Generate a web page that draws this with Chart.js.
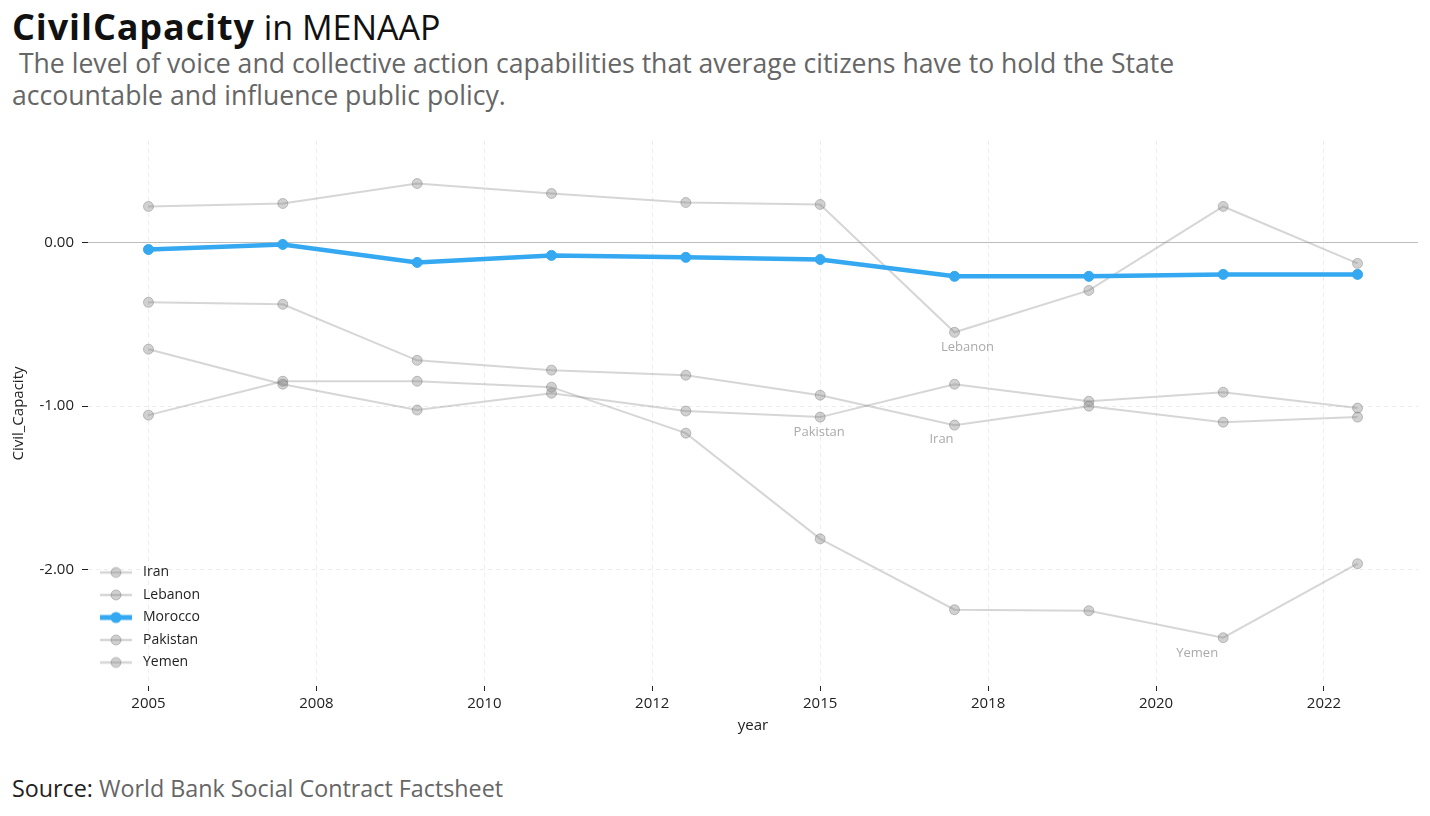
<!DOCTYPE html>
<html>
<head>
<meta charset="utf-8">
<script src="https://cdn.jsdelivr.net/npm/chart.js@4"></script>
<style>
  body { margin: 0; width: 1430px; height: 816px; background: #fff; font-family: "Open Sans", sans-serif; position: relative; overflow: hidden; }
  #title { position: absolute; left: 12px; top: 7px; font-size: 34px; line-height: 40px; color: #111; white-space: nowrap; }
  #title b { font-weight: 700; font-size: 36px; letter-spacing: 0.9px; }
  #subtitle { position: absolute; left: 12px; top: 47px; font-size: 26.6px; line-height: 32px; color: #666; white-space: pre; }
  #source { position: absolute; left: 12px; top: 773px; font-size: 23.3px; line-height: 30px; color: #666; white-space: nowrap; }
  #source span { color: #222; }
  #wrap { position: absolute; left: 0; top: 124px; width: 1430px; height: 612px; }
</style>
</head>
<body>
<div id="title"><b>CivilCapacity</b> in MENAAP</div>
<div id="subtitle"> The level of voice and collective action capabilities that average citizens have to hold the State
accountable and influence public policy.</div>
<div id="wrap"><canvas id="chart"></canvas></div>
<div id="source"><span>Source:</span> World Bank Social Contract Factsheet</div>
<script>
// data
var years = [2005, 2007, 2009, 2011, 2013, 2015, 2017, 2019, 2021, 2023];
var countries = ["Iran", "Lebanon", "Morocco", "Pakistan", "Yemen"];
var iran = [-0.366, -0.378, -0.72, -0.78, -0.811, -0.933, -1.116, -1.0, -1.098, -1.067];
var lebanon = [0.22, 0.238, 0.36, 0.299, 0.244, 0.232, -0.549, -0.293, 0.22, -0.128];
var morocco = [-0.043, -0.012, -0.122, -0.079, -0.091, -0.104, -0.207, -0.207, -0.195, -0.195];
var pakistan = [-0.652, -0.866, -1.024, -0.921, -1.03, -1.067, -0.866, -0.97, -0.915, -1.012];
var yemen = [-1.055, -0.848, -0.848, -0.884, -1.165, -1.811, -2.244, -2.25, -2.415, -1.963];
var xTickValues = [2005, 2007.5, 2010, 2012.5, 2015, 2017.5, 2020, 2022.5];
var xTickLabels = ["2005", "2008", "2010", "2012", "2015", "2018", "2020", "2022"];
var yTickValues = [0, -1, -2];

var seriesValues = [iran, lebanon, morocco, pakistan, yemen];
var highlight = "Morocco";

var BLUE = "rgb(52,168,240)";
var GREY_LINE = "rgba(128,128,128,0.32)";
var GREY_PT = "rgba(128,128,128,0.36)";
var GREY_PT_BORDER = "rgba(110,110,110,0.38)";

// where each country's name sits relative to its lowest point
var labelNudge = {
  Iran: [-13, 14],
  Lebanon: [13, 15],
  Pakistan: [-1, 15],
  Yemen: [-26, 16]
};

function legendIcon(isHi) {
  var c = document.createElement("canvas");
  c.width = 38; c.height = 14;
  var g = c.getContext("2d");
  g.strokeStyle = isHi ? BLUE : GREY_LINE;
  g.lineWidth = isHi ? 5 : 2.5;
  g.beginPath(); g.moveTo(2, 7); g.lineTo(34, 7); g.stroke();
  g.beginPath(); g.arc(18, 7, isHi ? 5.5 : 5, 0, Math.PI * 2);
  g.fillStyle = isHi ? BLUE : GREY_PT; g.fill();
  if (!isHi) { g.strokeStyle = GREY_PT_BORDER; g.lineWidth = 1; g.stroke(); }
  return c;
}

var datasets = countries.map(function (name, i) {
  var hi = name === highlight;
  return {
    label: name,
    data: years.map(function (y, j) { return { x: y, y: seriesValues[i][j] }; }),
    borderColor: hi ? BLUE : GREY_LINE,
    backgroundColor: hi ? BLUE : GREY_PT,
    pointBackgroundColor: hi ? BLUE : GREY_PT,
    pointBorderColor: hi ? BLUE : GREY_PT_BORDER,
    pointBorderWidth: 1,
    pointRadius: 5,
    borderWidth: hi ? 4.5 : 2,
    order: hi ? 0 : 1,
    tension: 0
  };
});
var icons = countries.map(function (n) { return legendIcon(n === highlight); });

var minLabels = {
  id: "minLabels",
  afterLayout: function (chart) {
    // drop the legend into the lower left corner, as in the reference
    chart.legend.bottom += 9;
    chart.legend.left += 1.5;
  },
  afterDatasetsDraw: function (chart) {
    var ctx = chart.ctx;
    ctx.save();
    ctx.font = "13px 'Open Sans'";
    ctx.fillStyle = "#aaa";
    ctx.textAlign = "center";
    ctx.textBaseline = "middle";
    countries.forEach(function (name, i) {
      if (name === highlight) return;
      var vals = seriesValues[i];
      var k = vals.indexOf(Math.min.apply(null, vals));
      var pt = chart.getDatasetMeta(i).data[k];
      var n = labelNudge[name] || [0, 15];
      ctx.fillText(name, pt.x + n[0], pt.y + n[1]);
    });
    ctx.restore();
  }
};

Chart.defaults.font.family = "'Open Sans', sans-serif";
Chart.defaults.color = "#222";

new Chart(document.getElementById("chart"), {
  type: "line",
  data: { datasets: datasets },
  plugins: [minLabels],
  options: {
    responsive: true,
    maintainAspectRatio: false,
    animation: false,
    layout: { padding: { top: 10, left: 6, right: 12, bottom: 0 } },
    plugins: {
      tooltip: { enabled: false },
      legend: {
        position: "chartArea",
        align: "end",
        labels: {
          usePointStyle: true,
          pointStyleWidth: 38,
          padding: 8.5,
          font: { size: 14 },
          color: "#222",
          generateLabels: function (chart) {
            return Chart.defaults.plugins.legend.labels.generateLabels(chart).map(function (l) {
              l.pointStyle = icons[l.datasetIndex];
              return l;
            });
          },
          sort: function (a, b) { return a.datasetIndex - b.datasetIndex; }
        }
      }
    },
    scales: {
      x: {
        type: "linear",
        min: 2004.1,
        max: 2023.9,
        afterBuildTicks: function (s) { s.ticks = xTickValues.map(function (v) { return { value: v }; }); },
        afterFit: function (s) { s.height = 50; },
        ticks: {
          font: { size: 15 },
          color: "#222",
          padding: 4,
          maxRotation: 0,
          callback: function (v) { return xTickLabels[xTickValues.indexOf(v)]; }
        },
        grid: { color: "#ececec", tickColor: "#222", tickLength: 5, tickWidth: 1 },
        border: { display: false, dash: [4, 4] },
        title: { display: true, text: "year", font: { size: 15 }, color: "#222", padding: { top: 4, bottom: 1 } }
      },
      y: {
        min: -2.71,
        max: 0.62,
        afterBuildTicks: function (s) { s.ticks = yTickValues.map(function (v) { return { value: v }; }); },
        afterFit: function (s) { s.width = 82; },
        ticks: {
          font: { size: 15 },
          color: "#222",
          padding: 8,
          callback: function (v) { return v.toFixed(2); }
        },
        grid: {
          color: function (c) { return c.tick && c.tick.value === 0 ? "#bdbdbd" : "#ececec"; },
          tickColor: "#222", tickLength: 6, tickWidth: 1
        },
        border: {
          display: false,
          dash: function (c) { return c.tick && c.tick.value === 0 ? [] : [4, 4]; }
        },
        title: { display: true, text: "Civil_Capacity", font: { size: 15 }, color: "#222", padding: 4 }
      }
    }
  }
});
</script>
</body>
</html>
